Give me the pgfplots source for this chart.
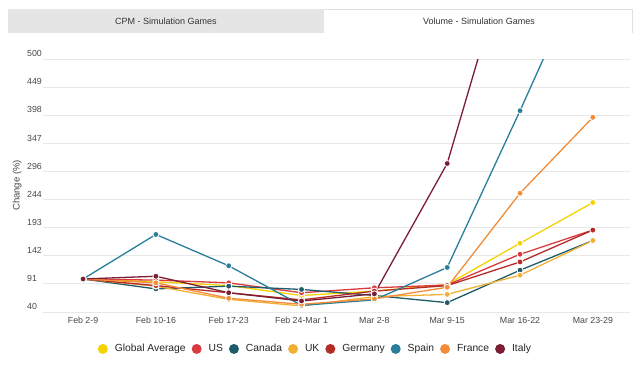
\documentclass[border=0pt]{standalone}
\usepackage{pgfplots}
\pgfplotsset{compat=1.18}
\usepackage{fontspec}
\setmainfont{Liberation Sans}
\definecolor{cGA}{HTML}{F5D300}
\definecolor{cUS}{HTML}{D93A3F}
\definecolor{cCA}{HTML}{1F5C6B}
\definecolor{cUK}{HTML}{F2B134}
\definecolor{cDE}{HTML}{B52B27}
\definecolor{cES}{HTML}{2A7E9B}
\definecolor{cFR}{HTML}{F28C38}
\definecolor{cIT}{HTML}{7B1E33}
\definecolor{txt}{HTML}{484848}
\begin{document}
\begin{tikzpicture}[x=1pt,y=1pt]
\useasboundingbox (0,0) rectangle (640,367);
\fill[white] (0,0) rectangle (640,367);
% tabs
\fill[black!10] (8,334) rectangle (324,358);
\draw[black!12, line width=0.6pt] (324,358) -- (632,358) -- (632,334);
\node[font=\fontsize{9}{10}\selectfont, text=black!80] at (166,346) {CPM - Simulation Games};
\node[font=\fontsize{9}{10}\selectfont, text=black!80] at (479,346) {Volume - Simulation Games};
\begin{axis}[
  at={(43pt,55pt)}, anchor=south west,
  width=587pt, height=253pt, scale only axis,
  xmin=-0.55, xmax=7.51, ymin=40, ymax=500,
  axis line style={draw=none},
  major tick length=0pt,
  xtick={0,...,7},
  xticklabels={Feb 2-9,Feb 10-16,Feb 17-23,Feb 24-Mar 1,Mar 2-8,Mar 9-15,Mar 16-22,Mar 23-29},
  ytick={40,91.11,142.22,193.33,244.44,295.56,346.67,397.78,448.89,500},
  yticklabels={40,91,142,193,244,296,347,398,449,500},
  ymajorgrids, grid style={draw=black!9, line width=0.8pt},
  tick label style={font=\fontsize{8.8}{10}\selectfont, text=txt},
  yticklabel style={anchor=south west, inner sep=0pt, xshift=-16pt, yshift=2pt},
  xticklabel style={yshift=-2pt},
  ylabel={Change (\%)},
  every axis y label/.style={at={(axis description cs:-0.044,0.5)}, rotate=90, anchor=center, font=\fontsize{9.5}{11}\selectfont, text=txt},
  legend style={draw=none, fill=none, legend columns=-1, at={(0.088,-0.146)}, anchor=west,
    font=\fontsize{10.3}{12}\selectfont, text=black!85,
    /tikz/every odd column/.append style={column sep=5pt},
    /tikz/every even column/.append style={column sep=4pt}},
  legend image code/.code={\fill[#1, draw=none] (0pt,0pt) circle (5pt);},
  every axis plot/.append style={line width=1.3pt, mark=*, mark size=3pt},
]
\addplot[color=cGA, mark options={draw=white, line width=0.8pt, fill=cGA}] coordinates {(0,100)(1,95)(2,88)(3,70)(4,78)(5,90)(6,165)(7,239)};
\addlegendentry{Global Average}
\addplot[color=cUS, mark options={draw=white, line width=0.8pt, fill=cUS}] coordinates {(0,100)(1,98)(2,93)(3,75)(4,84)(5,89)(6,145)(7,189)};
\addlegendentry{US}
\addplot[color=cCA, mark options={draw=white, line width=0.8pt, fill=cCA}] coordinates {(0,100)(1,82)(2,87)(3,81)(4,70)(5,57)(6,116)(7,170)};
\addlegendentry{Canada}
\addplot[color=cUK, mark options={draw=white, line width=0.8pt, fill=cUK}] coordinates {(0,100)(1,87)(2,63)(3,51)(4,68)(5,72)(6,107)(7,170)};
\addlegendentry{UK}
\addplot[color=cDE, mark options={draw=white, line width=0.8pt, fill=cDE}] coordinates {(0,100)(1,88)(2,75)(3,62)(4,78)(5,88)(6,131)(7,189)};
\addlegendentry{Germany}
\addplot[color=cES, mark options={draw=white, line width=0.8pt, fill=cES}] coordinates {(0,100)(1,181)(2,124)(3,52)(4,62)(5,121)(6,406)(7,700)};
\addlegendentry{Spain}
\addplot[color=cFR, mark options={draw=white, line width=0.8pt, fill=cFR}] coordinates {(0,100)(1,93)(2,65)(3,54)(4,64)(5,85)(6,256)(7,394)};
\addlegendentry{France}
\addplot[color=cIT, mark options={draw=white, line width=0.8pt, fill=cIT}] coordinates {(0,100)(1,105)(2,75)(3,60)(4,73)(5,310)(6,760)(7,900)};
\addlegendentry{Italy}
\end{axis}
\end{tikzpicture}
\end{document}
